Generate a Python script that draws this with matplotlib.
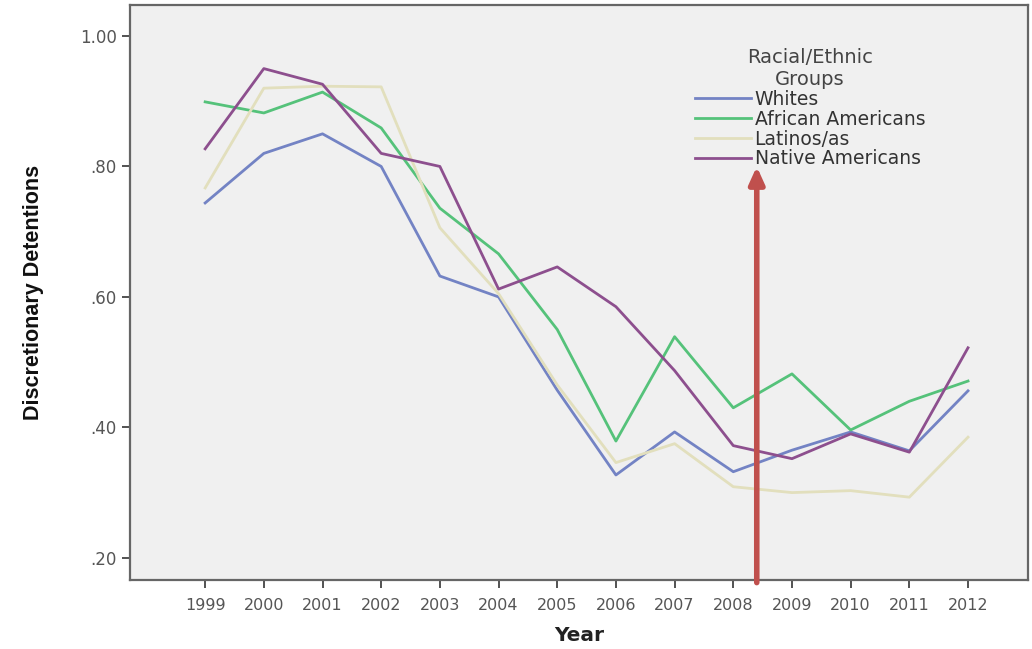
import matplotlib
matplotlib.use("Agg")
import matplotlib.pyplot as plt
import numpy as np

# values
years = [1999, 2000, 2001, 2002, 2003, 2004, 2005, 2006, 2007, 2008, 2009, 2010, 2011, 2012]
whites = [0.744, 0.820, 0.850, 0.800, 0.632, 0.600, 0.457, 0.327, 0.393, 0.332, 0.365, 0.393, 0.364, 0.456]
african_am = [0.899, 0.882, 0.914, 0.859, 0.736, 0.666, 0.550, 0.379, 0.539, 0.430, 0.482, 0.396, 0.440, 0.471]
latinos = [0.767, 0.920, 0.923, 0.922, 0.706, 0.605, 0.465, 0.346, 0.375, 0.309, 0.300, 0.303, 0.293, 0.385]
native_am = [0.827, 0.950, 0.926, 0.820, 0.800, 0.612, 0.646, 0.585, 0.487, 0.372, 0.352, 0.390, 0.362, 0.522]
y_ticks = [0.20, 0.40, 0.60, 0.80, 1.00]
y_ticklabels = [".20", ".40", ".60", ".80", "1.00"]

series = [
    ("Whites", whites, "#7383c4"),
    ("African Americans", african_am, "#55c27a"),
    ("Latinos/as", latinos, "#e2dfbd"),
    ("Native Americans", native_am, "#8d4f8e"),
]

fig = plt.figure(figsize=(10.32, 6.49), dpi=100)
ax = fig.add_axes([0.126, 0.1063, 0.87, 0.886])
ax.set_facecolor("#f0f0f0")

for name, vals, col in series:
    ax.plot(years, vals, color=col, linewidth=2.0, label=name)

ax.set_xlim(1997.72, 2013.02)
ax.set_ylim(0.166, 1.0475)
ax.set_xticks(years)
ax.set_xticklabels([str(y) for y in years], fontsize=11.5, color="#555555")
ax.set_yticks(y_ticks)
ax.set_yticklabels(y_ticklabels, fontsize=12, color="#555555")
ax.tick_params(direction="out", length=6, width=1.3, color="#444444")
ax.tick_params(axis="x", pad=7)

for s in ax.spines.values():
    s.set_color("#666666")
    s.set_linewidth(1.6)

ax.set_xlabel("Year", fontsize=14.5, fontweight="bold", color="#222222", labelpad=9)
ax.set_ylabel("Discretionary Detentions", fontsize=15.5, fontweight="bold",
              family=["Liberation Sans", "DejaVu Sans"], color="#111111", labelpad=26)

leg = ax.legend(title="Racial/Ethnic\nGroups", loc="upper left", bbox_to_anchor=(0.61, 0.955),
                frameon=False, fontsize=13.5, title_fontsize=14, handlelength=3.0,
                handletextpad=0.2, labelspacing=0.05, alignment="center")
leg.get_title().set_color("#444444")
leg.get_title().set_multialignment("center")
for t in leg.get_texts():
    t.set_color("#333333")

# red annotation arrow
ax.annotate("", xy=(2008.4, 0.80), xytext=(2008.4, 0.162),
            arrowprops=dict(arrowstyle="-|>,head_width=0.45,head_length=1.0",
                            color="#c0504d", linewidth=4.0, shrinkA=0, shrinkB=0),
            annotation_clip=False)

fig.savefig("out.png", dpi=100)
